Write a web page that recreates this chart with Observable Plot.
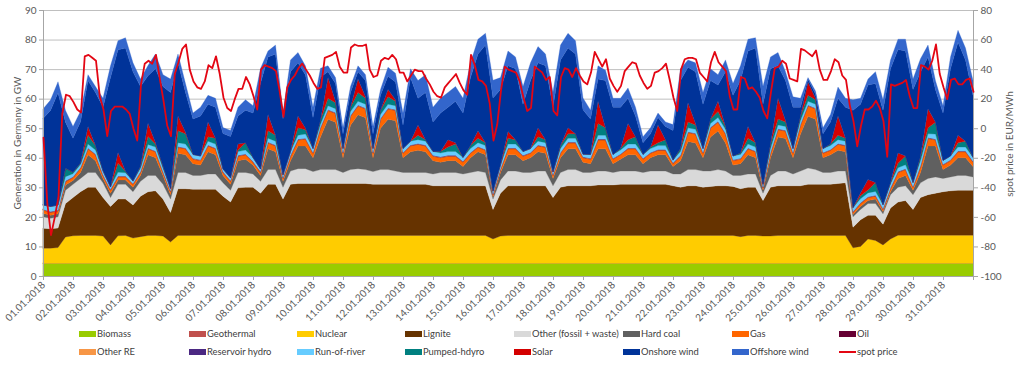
<!DOCTYPE html>
<html><head><meta charset="utf-8">
<script src="https://cdn.jsdelivr.net/npm/d3@7"></script>
<script src="https://cdn.jsdelivr.net/npm/@observablehq/plot@0.6"></script>
<style>
body{margin:0;background:#fff;font-family:Lato,sans-serif;}
#wrap{position:relative;width:1024px;height:365px;overflow:hidden;}
#legend{position:relative;width:1024px;height:35px;}
.lt{position:absolute;font-size:9.4px;color:#404040;white-space:nowrap;line-height:12px;}
.sw{position:absolute;width:17px;height:6px;}
.title{position:absolute;font-size:10px;color:#595959;white-space:nowrap;transform:translate(-50%,-50%) rotate(-90deg);}
</style></head><body><div id="wrap"></div>
<script>
// ---- categories / labels ----
const seriesNames = ["Biomass","Geothermal","Nuclear","Lignite","Other (fossil + waste)","Hard coal","Gas","Oil","Other RE","Reservoir hydro","Run-of-river","Pumped-hdyro","Solar","Onshore wind","Offshore wind"];
const seriesColors = ["#99cc00","#c0504d","#ffcc00","#663300","#d9d9d9","#606060","#ff6600","#660033","#f79646","#4b2882","#66ccff","#008080","#d40000","#003399","#3366cc"];
const dayLabels = ["01.01.2018","02.01.2018","03.01.2018","04.01.2018","05.01.2018","06.01.2018","07.01.2018","08.01.2018","09.01.2018","10.01.2018","11.01.2018","12.01.2018","13.01.2018","14.01.2018","15.01.2018","16.01.2018","17.01.2018","18.01.2018","19.01.2018","20.01.2018","21.01.2018","22.01.2018","23.01.2018","24.01.2018","25.01.2018","26.01.2018","27.01.2018","28.01.2018","29.01.2018","30.01.2018","31.01.2018"];
const gwTicks = [0,10,20,30,40,50,60,70,80,90];
const priceTicks = [-100,-80,-60,-40,-20,0,20,40,60,80];

// ---- daily values (GW), one per day ----
const biomass = [4.3,4.3,4.3,4.3,4.3,4.3,4.3,4.3,4.3,4.3,4.3,4.3,4.3,4.3,4.3,4.3,4.3,4.3,4.3,4.3,4.3,4.3,4.3,4.3,4.3,4.3,4.3,4.3,4.3,4.3,4.3];
const geothermal = [0.02,0.02,0.02,0.02,0.02,0.02,0.02,0.02,0.02,0.02,0.02,0.02,0.02,0.02,0.02,0.02,0.02,0.02,0.02,0.02,0.02,0.02,0.02,0.02,0.02,0.02,0.02,0.02,0.02,0.02,0.02];
const oil = [0.1,0.1,0.1,0.1,0.1,0.1,0.1,0.1,0.1,0.1,0.1,0.1,0.1,0.1,0.1,0.1,0.1,0.1,0.1,0.1,0.1,0.1,0.1,0.1,0.1,0.1,0.1,0.1,0.1,0.1,0.1];
const otherRE = [0.1,0.1,0.1,0.1,0.1,0.1,0.1,0.1,0.1,0.1,0.1,0.1,0.1,0.1,0.1,0.1,0.1,0.1,0.1,0.1,0.1,0.1,0.1,0.1,0.1,0.1,0.1,0.1,0.1,0.1,0.1];
const reservoirHydro = [0.1,0.1,0.1,0.1,0.1,0.1,0.1,0.1,0.1,0.1,0.1,0.1,0.1,0.1,0.1,0.1,0.1,0.1,0.1,0.1,0.1,0.1,0.1,0.1,0.1,0.1,0.1,0.1,0.1,0.1,0.1];

// ---- 6-hourly values (GW), 00/06/12/18 h, 01.01 00:00 to 01.02 00:00 ----
const nuclear = [5.1,5.1,5.3,8.9, 9.3,9.4,9.4,9.4, 9.2,6.2,9.3,9.4, 8.5,9.0,9.4,9.4, 9.2,7.2,9.4,9.4,
 9.4,9.4,9.4,9.4, 9.4,9.4,9.4,9.4, 9.4,9.4,9.4,9.4, 9.4,9.4,9.4,9.4, 9.4,9.4,9.4,9.4,
 9.4,9.4,9.4,9.4, 9.4,9.4,9.4,9.4, 9.4,9.4,9.4,9.4, 9.4,9.4,9.4,9.4, 9.4,9.4,9.4,9.4,
 8.2,9.2,9.4,9.4, 9.4,9.4,9.4,9.4, 9.4,9.4,9.4,9.4, 9.4,9.4,9.4,9.4, 9.4,9.4,9.4,9.4,
 9.4,9.4,9.4,9.4, 9.4,9.4,9.4,9.4, 9.4,9.4,9.4,9.4, 9.4,9.0,9.4,9.4, 9.2,9.2,9.4,9.4,
 9.4,9.4,9.4,9.4, 9.4,9.4,9.4,9.4, 5.2,5.7,8.2,7.7, 6.2,8.2,9.5,9.5, 9.5,9.5,9.5,9.5,
 9.5,9.5,9.5,9.5, 9.5];
const lignite = [6.7,6.6,6.6,11.3, 12.9,14.8,16.3,16.3, 13.0,13.0,12.4,12.3, 11.2,13.7,14.8,15.1, 12.5,10.0,15.8,15.8,
 15.6,15.6,15.6,15.6, 13.3,11.3,16.1,16.3, 16.3,14.3,17.3,17.3, 12.3,17.3,17.6,17.6, 17.6,17.6,17.6,17.6,
 17.6,17.6,17.6,17.6, 17.3,17.3,17.3,17.3, 17.3,17.3,17.3,17.3, 16.8,16.8,16.8,16.8, 16.8,16.8,16.8,16.8,
 10.0,14.5,16.8,16.8, 16.8,16.8,16.8,16.8, 12.8,16.3,16.8,16.8, 16.8,16.8,17.1,17.1, 17.1,17.3,17.3,17.3,
 17.3,17.3,17.3,17.3, 16.8,16.3,16.8,16.8, 16.3,16.6,16.8,16.8, 16.6,16.2,16.3,16.3, 12.0,16.5,16.8,16.8,
 16.8,16.8,17.3,17.3, 17.3,17.3,17.6,17.8, 7.0,9.0,8.0,8.5, 7.0,10.5,11.2,11.7, 8.7,12.7,13.7,14.2,
 14.7,15.0,15.2,15.2, 15.2];
const otherFossil = [3.9,3.5,3.8,4.5, 4.5,4.5,5.0,5.0, 5.0,3.0,5.0,5.0, 4.5,5.0,5.5,5.2, 5.0,4.5,5.5,5.5,
 4.7,4.7,5.2,5.2, 4.5,4.0,5.2,5.0, 4.5,4.0,5.0,5.0, 4.0,4.5,5.0,5.0, 4.0,4.7,4.7,4.7,
 3.7,4.7,5.0,4.7, 4.3,5.0,5.0,4.5, 4.0,4.0,4.0,4.0, 4.0,4.5,4.5,4.5, 4.0,4.5,5.0,4.5,
 3.5,4.5,5.0,5.0, 4.5,4.5,5.0,5.0, 4.0,5.0,5.5,5.5, 4.5,4.5,4.7,4.7, 4.2,4.5,4.5,4.5,
 4.0,4.5,4.5,4.5, 4.0,4.5,5.5,5.5, 5.5,5.2,5.5,5.0, 3.7,4.5,4.5,4.5, 2.5,4.0,5.0,5.0,
 4.0,5.0,5.5,5.0, 4.0,4.0,4.2,4.0, 3.5,3.5,4.0,4.0, 3.5,4.5,5.0,5.0, 5.0,5.0,5.5,5.5,
 4.5,4.7,5.0,5.0, 4.5];
const hardCoal = [1.2,1.0,1.0,1.8, 1.3,2.0,6.0,4.0, 1.5,1.5,1.5,1.5, 1.5,2.0,7.0,6.0, 3.0,1.5,6.5,6.0,
 4.0,3.5,7.5,6.5, 2.5,2.0,4.0,4.5, 3.0,2.0,7.0,6.0, 2.0,3.5,7.7,7.7, 4.7,11.0,17.0,16.0,
 5.0,15.0,18.2,17.5, 4.7,14.0,17.0,17.0, 5.0,7.0,7.5,7.0, 4.5,3.5,4.0,4.0, 2.5,5.0,6.5,6.0,
 0.8,2.5,5.5,5.5, 4.0,5.0,6.5,6.0, 2.5,5.0,7.0,7.0, 3.5,3.0,7.5,7.5, 3.0,4.0,5.5,5.5,
 3.0,4.5,5.5,5.5, 2.5,4.5,9.5,9.0, 4.5,11.5,13.0,9.5, 3.5,4.0,6.5,5.5, 1.0,6.0,11.5,11.0,
 5.5,12.5,17.5,17.0, 5.0,6.0,7.0,6.5, 0.8,1.0,1.0,1.5, 0.8,1.0,3.0,3.5, 1.5,3.5,11.0,10.5,
 3.0,4.0,6.0,6.0, 3.5];
const gas = [1.1,1.0,1.0,1.1, 1.0,1.4,2.0,2.0, 1.0,1.0,1.0,1.0, 1.0,1.0,2.0,2.0, 1.0,1.0,2.0,2.0,
 1.5,1.5,2.0,2.0, 1.0,1.0,1.5,1.5, 1.0,1.0,2.0,2.0, 1.0,1.5,2.0,2.3, 1.5,3.0,3.0,3.0,
 1.5,3.0,3.0,3.0, 1.5,3.0,3.5,3.5, 1.5,2.0,2.0,2.0, 1.5,1.5,1.5,1.5, 1.5,1.5,1.5,1.5,
 0.7,1.0,2.0,2.0, 1.5,1.5,2.0,2.0, 1.0,1.5,2.0,2.0, 1.5,1.5,3.0,3.0, 1.5,1.5,2.0,2.0,
 1.5,1.5,1.5,1.5, 1.0,1.5,3.0,3.0, 1.5,3.0,3.0,3.0, 1.5,1.5,2.0,2.0, 0.8,1.5,2.5,2.5,
 1.5,3.0,3.5,3.5, 1.5,1.5,2.0,2.0, 0.7,1.0,1.0,1.0, 0.7,1.0,2.0,2.0, 1.0,2.0,2.5,2.0,
 1.5,1.5,2.0,2.0, 1.5];
const runOfRiver = [1.4,1.7,1.7,1.4, 1.0,1.0,1.3,1.3, 1.1,0.8,1.3,1.1, 0.8,1.1,1.2,1.3, 1.1,0.8,1.3,1.3,
 1.3,1.3,1.3,1.3, 0.9,0.9,1.3,1.3, 1.3,0.9,1.3,1.3, 0.9,1.3,1.3,1.4, 1.3,1.0,1.3,1.3,
 1.3,1.3,1.3,1.3, 1.3,1.3,1.3,1.3, 1.3,1.3,1.3,1.3, 1.3,1.3,1.3,1.3, 1.3,1.3,1.3,1.3,
 0.9,1.3,1.3,1.3, 1.3,1.3,1.3,1.3, 0.9,1.3,1.3,1.3, 0.9,1.3,1.3,1.3, 1.3,1.3,1.3,1.3,
 1.3,1.3,1.3,1.3, 0.9,1.3,1.3,1.3, 1.3,1.3,1.3,1.3, 1.3,1.3,1.3,1.3, 0.9,1.3,1.3,1.3,
 1.3,1.3,1.3,1.3, 1.3,1.3,1.3,1.3, 1.3,1.3,1.3,1.3, 1.3,1.3,1.3,1.3, 1.3,1.7,1.3,1.7,
 1.3,1.3,1.3,1.3, 1.3];
const pumpedHydro = [0,0,0,2.8, 0.5,0.5,3.0,1.5, 0.2,0,3.0,0.5, 0,0.7,2.7,1.0, 0.7,0,4.0,3.5,
 0,0,1.5,2.0, 0,0,0.5,2.5, 0,0,2.5,2.0, 0,0,2.5,1.5, 0,1.5,2.5,2.0,
 0,1.5,3.0,2.0, 0,1.5,2.5,1.5, 0,0,1.5,0.5, 0,0.5,1.5,2.5, 0,1.0,1.5,1.0,
 0,0,2.0,1.5, 0,0,1.5,1.0, 0,1.0,1.5,1.5, 0,0,4.0,2.5, 0,0.5,1.5,2.5,
 0,0.5,1.0,2.0, 0,1.0,2.0,1.5, 0,1.5,2.0,1.0, 0,0.5,2.0,1.5, 0,1.5,2.0,1.5,
 0,1.5,2.0,1.5, 0,0.5,1.5,1.0, 0,1.0,1.0,3.0, 0,0.5,1.5,3.0, 0,1.5,2.0,4.0,
 0,0,1.5,2.0, 0];
const solar = [0,0,0,0, 0,0,3.0,0, 0,0,3.7,0, 0,0,4.5,0.5, 0,0,5.0,0.5,
 0,0,5.0,0, 0,0,2.0,0, 0,0,5.5,0, 0,0,4.0,0.5, 0,0,7.0,0.5,
 0,0,4.5,0.5, 0,0,2.5,0.5, 0,0,3.5,0, 0,0,2.5,0.5, 0,0,2.5,0,
 0,0,2.3,0, 0,0,3.0,0, 0,0,2.0,0, 0,0,7.5,0, 0,0,5.5,0,
 0,0,6.0,0, 0,0,6.5,0.5, 0,0,3.5,0, 0,0,4.0,0, 0,0,7.0,0.5,
 0,0,4.5,0.5, 0,0,6.5,0, 0,1.0,3.5,0, 0,0,3.5,0, 0,0,6.5,0,
 0,0,2.5,0, 0];
const onshoreWind = [29.3,32.5,38.0,15.6, 11.5,14.0,15.5,18.0, 21.5,37.0,34.7,41.7, 37.0,27.0,16.0,25.0, 27.0,32.5,18.0,13.5,
 12.0,13.5,6.0,10.5, 12.0,14.0,9.5,11.0, 15.0,29.0,19.5,27.5, 19.0,27.0,18.0,18.0, 10.5,14.5,2.0,6.0,
 5.0,5.0,2.5,5.5, 5.0,5.0,4.5,6.0, 8.0,21.5,9.0,16.0, 10.0,13.0,11.0,14.0, 15.0,23.0,26.0,33.0,
 31.5,25.5,22.2,24.0, 16.0,23.0,22.0,25.0, 22.0,29.0,27.0,27.0, 15.0,12.0,7.5,16.0, 16.0,14.0,8.5,7.0,
 4.0,4.5,2.5,4.5, 10.0,23.0,12.0,17.5, 15.0,13.0,5.5,18.5, 20.5,24.5,25.5,32.0, 27.2,25.5,11.0,13.5,
 14.0,3.0,1.0,1.5, 5.0,7.5,6.0,10.5, 33.0,30.0,32.0,33.5, 32.0,38.5,35.0,35.5, 31.5,28.5,17.5,11.0,
 16.0,29.5,31.5,27.5, 21.0];
const offshoreWind = [3.2,3.5,3.7,4.0, 4.0,3.5,2.0,2.0, 3.0,4.0,3.1,3.5, 3.0,2.5,3.5,5.0, 4.0,4.5,3.0,3.0,
 2.0,3.0,3.0,3.0, 2.0,2.0,3.0,3.5, 2.5,5.0,2.0,3.0, 2.0,4.0,3.5,3.0, 3.5,3.0,2.0,2.0,
 2.0,2.0,2.0,2.0, 2.5,2.0,3.0,3.0, 4.0,3.0,6.0,6.0, 5.0,5.0,5.0,5.0, 5.0,5.0,5.0,4.0,
 6.0,4.0,5.0,4.0, 6.0,6.0,5.5,4.0, 5.0,5.0,5.0,4.5, 4.0,3.0,4.5,3.5, 3.0,3.0,3.5,3.0,
 2.0,2.0,1.5,1.5, 2.0,4.0,2.5,3.0, 4.0,4.0,3.5,4.0, 4.0,5.0,4.0,3.5, 6.0,4.0,4.5,3.0,
 3.5,3.0,0.5,1.0, 2.0,2.5,3.8,3.0, 3.5,2.0,2.0,4.0, 3.5,3.0,3.5,4.0, 3.5,4.5,4.0,3.0,
 2.5,4.0,4.0,4.0, 5.0];

// ---- 3-hourly spot price (EUR/MWh) ----
const spotPrice = [-6,-50,-72,-60,-46,10,23,22,
 18,13,11,49,50,48,46,22, 13,-5,12,15,15,15,13,10, 0,-8,30,44,46,44,50,34,
 19,2,-5,37,45,54,57,40, 32,28,27,32,43,41,49,37, 21,14,12,20,27,27,35,30,
 22,13,40,43,42,41,39,25, 8,28,33,36,41,44,40,36, 31,27,28,48,49,50,52,42,
 38,38,55,57,56,56,57,40, 35,36,46,48,47,50,47,38, 38,32,36,40,39,39,34,30,
 25,22,21,28,31,34,37,31, 26,23,50,43,33,32,29,17, -8,3,26,42,40,39,38,32,
 21,12,14,42,40,38,33,35, 12,9,35,41,40,35,41,36, 32,30,38,52,47,42,47,34,
 29,25,29,39,42,45,44,36, 31,27,29,38,39,41,44,33, 21,12,40,47,48,48,47,38,
 35,32,45,52,45,42,39,22, 13,13,35,34,27,28,25,21, 12,7,25,41,42,46,44,34,
 33,32,54,53,51,49,53,40, 33,33,39,47,45,36,33,16, 5,-12,2,13,13,15,19,14,
 5,-19,30,29,30,31,33,22, 14,14,43,42,40,46,57,37, 28,20,33,34,30,30,33,34,
 25];

// ---- build tables ----
const daily = {"Biomass": biomass, "Geothermal": geothermal, "Oil": oil, "Other RE": otherRE, "Reservoir hydro": reservoirHydro};
const sixHourly = {"Nuclear": nuclear, "Lignite": lignite, "Other (fossil + waste)": otherFossil, "Hard coal": hardCoal, "Gas": gas,
  "Run-of-river": runOfRiver, "Pumped-hdyro": pumpedHydro, "Solar": solar, "Onshore wind": onshoreWind, "Offshore wind": offshoreWind};
const rows = [];
for (const name of seriesNames) {
  for (let i = 0; i < nuclear.length; i++) {
    const v = sixHourly[name] ? sixHourly[name][i] : daily[name][Math.min(Math.floor(i / 4), 30)];
    rows.push({t: i / 4, series: name, value: v});
  }
}
const priceRows = spotPrice.map((p, i) => ({t: i / 8, p}));

const chart = Plot.plot({
  width: 1024, height: 330,
  marginLeft: 43, marginRight: 51, marginTop: 10, marginBottom: 54,
  style: {fontFamily: "Lato, sans-serif", fontSize: "10px", color: "#595959", background: "#fff", overflow: "visible"},
  x: {domain: [0, 31], axis: null},
  y: {domain: [0, 90], axis: null},
  color: {domain: seriesNames, range: seriesColors},
  marks: [
    Plot.gridY(gwTicks.slice(1), {stroke: "#bfbfbf", strokeOpacity: 1}),
    Plot.areaY(rows, {x: "t", y: "value", z: "series", fill: "series", order: seriesNames, stroke: "series", strokeWidth: 0.3}),
    Plot.ruleX([0, 31], {stroke: "#a6a6a6"}),
    Plot.ruleY([0], {stroke: "#a6a6a6"}),
    Plot.line(priceRows, {x: "t", y: d => (d.p + 100) / 2, stroke: "#e30613", strokeWidth: 1.8}),
    Plot.axisY({anchor: "left", ticks: gwTicks, tickSize: 4, tickPadding: 3, label: null, stroke: "#a6a6a6"}),
    Plot.axisY({anchor: "right", ticks: priceTicks.map(p => (p + 100) / 2), tickFormat: v => String(Math.round(v * 2 - 100)), tickSize: 4, tickPadding: 3, label: null, stroke: "#a6a6a6"}),
    Plot.axisX({ticks: d3.range(0, 32), tickFormat: i => dayLabels[i] ?? "", tickRotate: -45, tickSize: 4, tickPadding: 3, label: null, stroke: "#a6a6a6"})
  ]
});

const wrap = document.getElementById("wrap");
wrap.appendChild(chart);

// axis titles
const lt = document.createElement("div");
lt.className = "title"; lt.textContent = "Generation in Germany in GW";
lt.style.left = "17px"; lt.style.top = "143px";
wrap.appendChild(lt);
const rt = document.createElement("div");
rt.className = "title"; rt.textContent = "spot price in EUR/MWh";
rt.style.left = "1009px"; rt.style.top = "144px";
wrap.appendChild(rt);

// legend
const legend = document.createElement("div");
legend.id = "legend";
const legendItems = seriesNames.map((n, i) => ({name: n, color: seriesColors[i], line: false}));
legendItems.push({name: "spot price", color: "#e30613", line: true});
const colX = [79, 189, 297, 405, 514, 623, 732, 839];
legendItems.forEach((it, k) => {
  const col = k % 8, row = Math.floor(k / 8);
  const cy = row === 0 ? 4 : 22;
  const sw = document.createElement("div");
  sw.className = "sw";
  sw.style.left = colX[col] + "px";
  if (it.line) { sw.style.top = (cy - 1) + "px"; sw.style.height = "2px"; }
  else { sw.style.top = (cy - 3) + "px"; }
  sw.style.background = it.color;
  legend.appendChild(sw);
  const tx = document.createElement("div");
  tx.className = "lt";
  tx.textContent = it.name;
  tx.style.left = (colX[col] + 18) + "px";
  tx.style.top = (cy - 6) + "px";
  legend.appendChild(tx);
});
wrap.appendChild(legend);
</script></body></html>
